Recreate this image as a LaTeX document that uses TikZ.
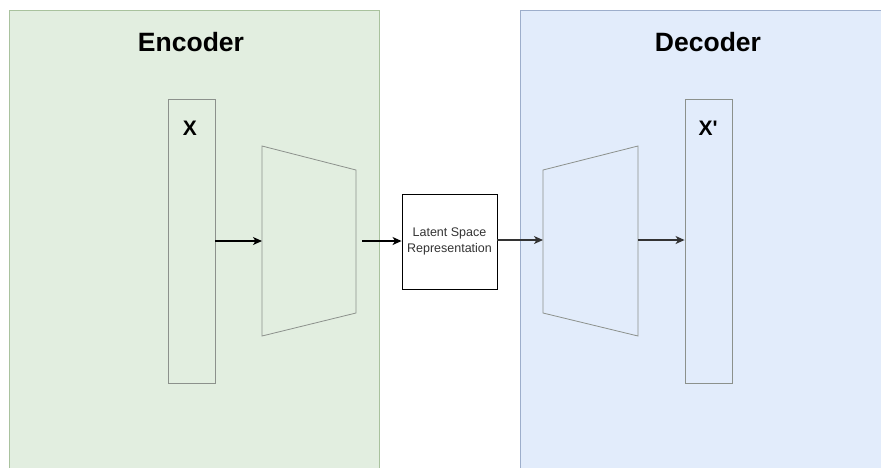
\documentclass[tikz,border=0pt]{standalone}
\usepackage{fontspec}
\setmainfont{Liberation Sans}
\usetikzlibrary{arrows.meta}
\definecolor{encfill}{HTML}{E2EEE0}
\definecolor{encline}{HTML}{A9C29E}
\definecolor{decfill}{HTML}{E2ECFB}
\definecolor{decline}{HTML}{9DAECB}
\definecolor{shapeline}{HTML}{8C918C}
\begin{document}
\begin{tikzpicture}[x=1pt,y=-1pt,
  panel/.style={line width=0.9pt},
  title/.style={font=\fontsize{26.5}{30}\selectfont\bfseries},
  vecbox/.style={draw=shapeline,line width=0.9pt,minimum width=47pt,minimum height=284pt,inner sep=0pt},
  veclabel/.style={font=\fontsize{21}{24}\selectfont\bfseries},
  net/.style={draw=shapeline,line width=0.8pt},
  latent/.style={draw=black,line width=0.9pt,fill=white,minimum width=95pt,minimum height=95pt,inner sep=0pt,
    align=center,font=\fontsize{12.5}{16}\selectfont,text=black!80},
  flow/.style={-{Stealth[length=9pt,width=8pt,inset=2.5pt]},line width=1.2pt}]
\useasboundingbox (0,0) rectangle (881,467);
\fill[white] (0,0) rectangle (881,467);

% encoder and decoder panels
\fill[encfill] (9,10) rectangle (379,470);
\draw[panel,draw=encline] (9,470) -- (9,10) -- (379,10) -- (379,470);
\fill[decfill] (520,10) rectangle (884,470);
\draw[panel,draw=decline] (520,470) -- (520,10) -- (884,10);
\node[title] (enctitle) at (191,42) {Encoder};
\node[title] (dectitle) at (708,42) {Decoder};

% input and reconstruction vectors
\node[vecbox] (xin) at (191.5,241) {};
\node[veclabel] (xinlabel) at (190,128) {X};
\node[vecbox] (xout) at (708.5,241) {};
\node[veclabel] (xoutlabel) at (708,128) {X\textquotesingle};

% encoder network (narrowing) and decoder network (widening)
\draw[net] (262,146) -- (356,170) -- (356,313) -- (262,336) -- cycle;
\coordinate (encin) at (262,241);
\coordinate (encout) at (356,241);
\draw[net] (543,170) -- (638,146) -- (638,336) -- (543,313) -- cycle;
\coordinate (decin) at (543,240);
\coordinate (decout) at (638,240);

% bottleneck
\node[latent] (z) at (449.5,241.5) {Latent Space\\Representation};

% data flow
\draw[flow] (xin.east |- encin) -- (encin);
\draw[flow] ([xshift=6pt]encout) -- (z.west |- encout);
\draw[flow,draw=black!80] (z.east |- decin) -- (decin);
\draw[flow,draw=black!80] (decout) -- (xout.west |- decout);
\end{tikzpicture}
\end{document}
